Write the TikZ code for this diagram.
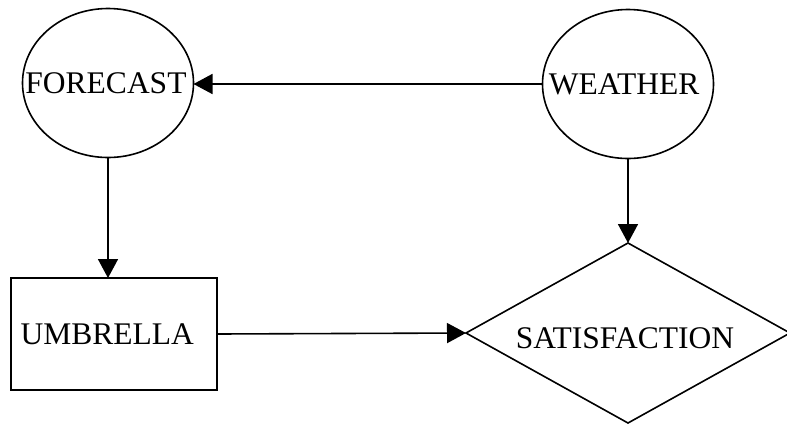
\documentclass[tikz,border=0pt]{standalone}
\usepackage{fontspec}
\setmainfont{Liberation Serif}
\usetikzlibrary{shapes.geometric,arrows.meta}

\begin{document}
\begin{tikzpicture}[x=1pt,y=-1pt,
  every node/.style={font=\fontsize{31.5}{36}\selectfont, inner sep=0pt, outer sep=0pt},
  chance/.style={draw, ellipse, line width=1.6pt, minimum width=171pt, minimum height=149pt},
  decision/.style={draw, rectangle, line width=1.6pt, minimum width=206pt, minimum height=112pt,
                   text width=186.6pt, inner xsep=9.7pt, align=left},
  utility/.style={draw, diamond, line width=1.6pt, minimum width=324pt, minimum height=180pt},
  link/.style={line width=1.6pt, -{Triangle[length=19pt,width=20pt]}}
]
  \useasboundingbox (0,0) rectangle (787,424);

  % nodes of the influence diagram
  \node[chance]   (forecast) at (108,83)  {};
  \node (forecasttext) at ([xshift=-2pt]forecast.center) {FORECAST};
  \node[chance]   (weather)  at (628,84)  {};
  \node (weathertext) at ([xshift=-4pt]weather.center) {WEATHER};
  \node[decision] (umbrella) at (114,334) {UMBRELLA};
  \node[utility]  (satis)    at (628,333) {};
  \node (satistext) at ([shift={(-3pt,-5.5pt)}]satis.center) {SATISFACTION};

  % arcs
  \draw[link] (weather.west) -- (weather.west -| forecast.east);
  \draw[link] (forecast.south) -- (umbrella.north -| forecast.south);
  \draw[link] (weather.south) -- (satis.north);
  \draw[link] (umbrella.east) -- (satis.west);
\end{tikzpicture}
\end{document}
